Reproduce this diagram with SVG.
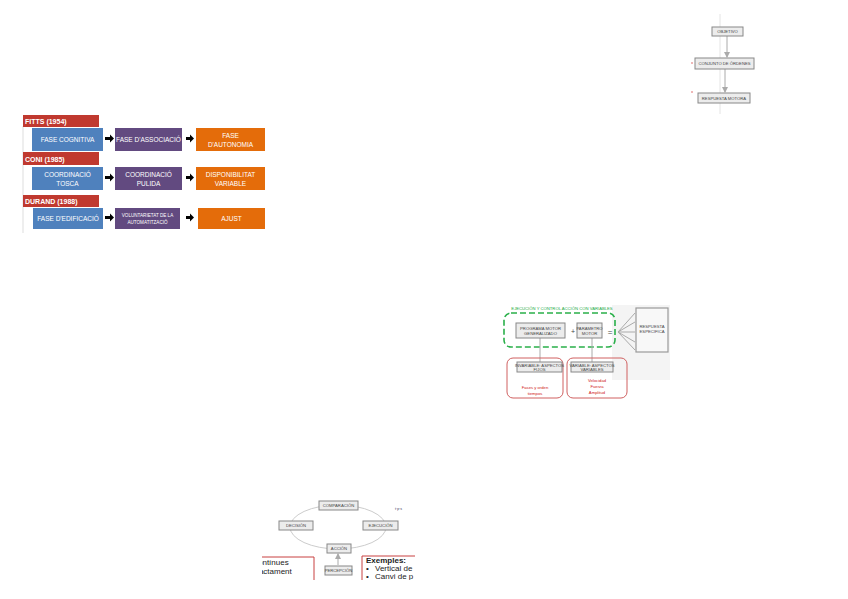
<svg xmlns="http://www.w3.org/2000/svg" width="848" height="599" viewBox="0 0 848 599">
<style>
text{font-family:"Liberation Sans",Arial,sans-serif}
.bar{fill:#c0392f}
.bt{fill:#fff;font-size:7px;font-weight:bold}
.wt{fill:#fff;font-size:6.5px;text-anchor:middle}
.blue{fill:#4f81bd}
.purple{fill:#624a80}
.orange{fill:#e46c0a}
.gbox{fill:#ececec;stroke:#888;stroke-width:1}
.gt{fill:#444;font-size:4.2px;text-anchor:middle}
.gl{stroke:#aaa;stroke-width:1;fill:none}
.red{fill:none;stroke:#d06060;stroke-width:1}
.rt{fill:#d02020;font-size:4.2px;text-anchor:middle}
.bx{font-size:8px;fill:#222}
</style>
<defs>
<marker id="ga" markerWidth="6" markerHeight="6" refX="5" refY="3" orient="auto"><path d="M0,0L6,3L0,6z" fill="#aaa"/></marker>
<clipPath id="cb"><rect x="262" y="496" width="153" height="84"/></clipPath>
</defs>
<rect width="848" height="599" fill="#fff"/>

<!-- top-left panel -->
<g id="panel1">
<line x1="23" y1="126" x2="23" y2="233" stroke="#ddd" stroke-width="1"/>
<g id="fitts"><rect class="bar" x="23" y="115" width="76" height="12"/><text class="bt" x="25" y="124">FITTS (1954)</text></g>
<g id="f1"><rect class="blue" x="32" y="128" width="71" height="23"/><text class="wt" x="67.5" y="142">FASE COGNITIVA</text></g>
<g id="f2"><rect class="purple" x="115" y="128" width="67" height="23"/><text class="wt" x="148.5" y="142">FASE D'ASSOCIACIÓ</text></g>
<g id="f3"><rect class="orange" x="196" y="128" width="69" height="23"/><text class="wt" x="230.5" y="138">FASE</text><text class="wt" x="230.5" y="147">D'AUTONOMIA</text></g>
<g id="coni"><rect class="bar" x="23" y="152" width="76" height="13"/><text class="bt" x="25" y="161.5">CONI (1985)</text></g>
<g id="c1"><rect class="blue" x="32" y="167" width="71" height="23"/><text class="wt" x="67.5" y="176.5">COORDINACIÓ</text><text class="wt" x="67.5" y="185.5">TOSCA</text></g>
<g id="c2"><rect class="purple" x="115" y="167" width="67" height="23"/><text class="wt" x="148.5" y="176.5">COORDINACIÓ</text><text class="wt" x="148.5" y="185.5">PULIDA</text></g>
<g id="c3"><rect class="orange" x="196" y="167" width="69" height="23"/><text class="wt" x="230.5" y="176.5">DISPONIBILITAT</text><text class="wt" x="230.5" y="185.5">VARIABLE</text></g>
<g id="durand"><rect class="bar" x="23" y="195" width="76" height="12"/><text class="bt" x="25" y="204">DURAND (1988)</text></g>
<g id="d1"><rect class="blue" x="33" y="208" width="70" height="21"/><text class="wt" x="68" y="221">FASE D'EDIFICACIÓ</text></g>
<g id="d2"><rect class="purple" x="115" y="208" width="65" height="21"/><text class="wt" x="147.5" y="216.5" style="font-size:4.6px">VOLUNTARIETAT DE LA</text><text class="wt" x="147.5" y="223.5" style="font-size:4.6px">AUTOMATITZACIÓ</text></g>
<g id="d3"><rect class="orange" x="198" y="208" width="67" height="21"/><text class="wt" x="231.5" y="221">AJUST</text></g>
<g id="arrows1" fill="#000">
<path d="M105,137h5v-2.5l4,4l-4,4v-2.5h-5z"/>
<path d="M186,137h4v-2.5l4,4l-4,4v-2.5h-4z"/>
<path d="M105,176h5v-2.5l4,4l-4,4v-2.5h-5z"/>
<path d="M186,176h4v-2.5l4,4l-4,4v-2.5h-4z"/>
<path d="M105,216h5v-2.5l4,4l-4,4v-2.5h-5z"/>
<path d="M186,216h4v-2.5l4,4l-4,4v-2.5h-4z"/>
</g>
</g>

<!-- top-right flow -->
<g id="panel2">
<line x1="720" y1="14" x2="720" y2="114" stroke="#ddd" stroke-width="0.8"/>
<line x1="692" y1="62" x2="692" y2="64" stroke="#e07070" stroke-width="1"/>
<line x1="692" y1="91" x2="692" y2="93" stroke="#e07070" stroke-width="1"/>
<g id="connectors2">
<line class="gl" x1="727" y1="36" x2="727" y2="57" marker-end="url(#ga)"/>
<line class="gl" x1="725" y1="69" x2="725" y2="92" marker-end="url(#ga)"/>
</g>
<g id="obj"><rect class="gbox" x="712" y="27" width="31" height="9"/><text class="gt" x="727.5" y="33.3">OBJETIVO</text></g>
<g id="conj"><rect class="gbox" x="695" y="58" width="59" height="11"/><text class="gt" x="724.5" y="65.3">CONJUNTO DE ÓRDENES</text></g>
<g id="resp"><rect class="gbox" x="698" y="93" width="52" height="10"/><text class="gt" x="724" y="99.8">RESPUESTA MOTORA</text></g>
</g>

<!-- middle-right -->
<g id="panel3">
<rect x="612" y="305" width="58" height="75" fill="#f4f4f4"/>
<text x="562" y="310" style="font-size:4.2px;fill:#22aa44;text-anchor:middle">EJECUCIÓN Y CONTROL ACCIÓN CON VARIABLES</text>
<rect x="504" y="313" width="111" height="34" rx="7" fill="none" stroke="#2ab04a" stroke-width="1.6" stroke-dasharray="6,3"/>
<g id="connectors3">
<line class="gl" x1="540" y1="338" x2="540" y2="362"/>
<line class="gl" x1="592" y1="338" x2="592" y2="362"/>
<line class="gl" x1="618" y1="332" x2="635" y2="313"/>
<line class="gl" x1="618" y1="332" x2="635" y2="322"/>
<line class="gl" x1="618" y1="332" x2="635" y2="332"/>
<line class="gl" x1="618" y1="332" x2="635" y2="342"/>
<line class="gl" x1="618" y1="332" x2="635" y2="350"/>
</g>
<g id="pmg"><rect class="gbox" x="516" y="323" width="49" height="15"/><text class="gt" x="540.5" y="329.5">PROGRAMA MOTOR</text><text class="gt" x="540.5" y="334.5">GENERALIZADO</text></g>
<text x="573" y="334" style="font-size:7px;fill:#444;text-anchor:middle">+</text>
<g id="pm"><rect class="gbox" x="577" y="323" width="25" height="15"/><text class="gt" x="589.5" y="329.5">PARÁMETRO</text><text class="gt" x="589.5" y="334.5">MOTOR</text></g>
<text x="610" y="335" style="font-size:8px;fill:#444;text-anchor:middle">=</text>
<g id="re"><rect x="636" y="308" width="32" height="44" fill="#f8f8f8" stroke="#999" stroke-width="1.2"/><text class="gt" x="652" y="328">RESPUESTA</text><text class="gt" x="652" y="333">ESPECÍFICA</text></g>
<rect class="red" x="507" y="358" width="56" height="40" rx="6"/>
<rect class="red" x="567" y="358" width="60" height="40" rx="6"/>
<g id="inv"><rect class="gbox" x="517" y="362" width="45" height="10"/><text class="gt" x="539.5" y="366.5">INVARIABLE: ASPECTOS</text><text class="gt" x="539.5" y="370.8">FIJOS</text></g>
<g id="var"><rect class="gbox" x="571" y="362" width="42" height="10"/><text class="gt" x="592" y="366.5">VARIABLE: ASPECTOS</text><text class="gt" x="592" y="370.8">VARIABLES</text></g>
<text class="rt" x="535" y="389">Fases y orden</text>
<text class="rt" x="535" y="395">tiempos</text>
<text class="rt" x="597" y="382">Velocidad</text>
<text class="rt" x="597" y="388">Fuerza</text>
<text class="rt" x="597" y="394">Amplitud</text>
</g>

<!-- bottom cycle -->
<g id="panel4" clip-path="url(#cb)">
<ellipse cx="338" cy="527" rx="48" ry="22" fill="none" stroke="#ccc" stroke-width="1"/>
<g id="connectors4"><line class="gl" x1="338" y1="565" x2="338" y2="554" marker-end="url(#ga)"/></g>
<g id="comp"><rect class="gbox" x="319" y="501" width="39" height="9"/><text class="gt" x="338.5" y="507.3">COMPARACIÓN</text></g>
<g id="dec"><rect class="gbox" x="279" y="521" width="34" height="9"/><text class="gt" x="296" y="527.3">DECISIÓN</text></g>
<g id="eje"><rect class="gbox" x="363" y="521" width="35" height="9"/><text class="gt" x="380.5" y="527.3">EJECUCIÓN</text></g>
<g id="acc"><rect class="gbox" x="327" y="544" width="24" height="9"/><text class="gt" x="339" y="550.3">ACCIÓN</text></g>
<g id="per"><rect class="gbox" x="325" y="566" width="27" height="9"/><text class="gt" x="338.5" y="572.3">PERCEPCIÓN</text></g>
<text x="395" y="510" style="font-size:3.5px;fill:#335">t·p·s</text>
<path d="M240,557H314V585" fill="none" stroke="#c84040" stroke-width="1"/>
<text class="bx" x="254" y="565">contínues</text>
<text class="bx" x="254" y="574">tractament</text>
<path d="M362,585V556H440" fill="none" stroke="#c84040" stroke-width="1"/>
<text class="bx" x="366" y="563" style="font-weight:bold">Exemples:</text>
<text class="bx" x="366" y="571">•</text><text class="bx" x="375" y="571">Vertical de</text>
<text class="bx" x="366" y="579">•</text><text class="bx" x="375" y="579">Canvi de p</text>
</g>
</svg>
